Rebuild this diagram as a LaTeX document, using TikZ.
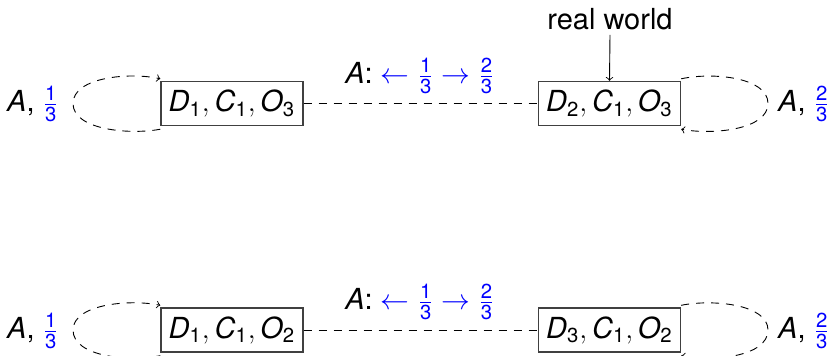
\documentclass[tikz,border=0pt]{standalone}
\usepackage{amsmath}
\usepackage{fontspec}
\setmainfont{TeX Gyre Heros}
\newcommand{\vv}[2]{\textit{#1}_{\text{#2}}}
\newcommand{\fr}[2]{\frac{\text{#1}}{\text{#2}}}
\begin{document}
\begin{tikzpicture}[x=0.5pt,y=-0.5pt,
  every node/.style={font=\fontsize{14.5}{17}\selectfont},
  world/.style={draw=black!75,line width=0.7pt,minimum width=71pt,minimum height=22pt,inner sep=1pt},
  link/.style={dash pattern=on 4pt off 3.5pt,line width=0.45pt},
  loop/.style={dash pattern=on 4pt off 3.5pt,line width=0.45pt,->},
  prob/.style={text=blue}]
\useasboundingbox (0,0) rectangle (831,355);
% top row
\node[world] (b1) at (232,103.5) {$\vv{D}{1}, \vv{C}{1}, \vv{O}{3}$};
\node[world] (b2) at (609.5,103.5) {$\vv{D}{2}, \vv{C}{1}, \vv{O}{3}$};
\node (l1) at (33,104) {\textit{A}, $\color{blue}\fr{1}{3}$};
\node (r1) at (804,104) {\textit{A}, $\color{blue}\fr{2}{3}$};
\node (m1) at (420,76) {\textit{A}: \textcolor{blue}{$\leftarrow \fr{1}{3} \rightarrow \fr{2}{3}$}};
\node (rw) at (610,19) {real world};
\draw[->,line width=0.45pt] (rw.south) ++(0,-2) coordinate (rws) (rws) -- (b2.north);
\draw[link] (b1.east) -- (b2.west);
\draw[loop] ([yshift=-1.5pt]b1.south west) .. controls (130,135) and (73,130) .. (73,103.5)
  .. controls (73,77) and (130,72) .. ([yshift=1pt]b1.north west);
\draw[loop] ([yshift=1pt]b2.north east) .. controls (712,72) and (768,77) .. (768,103.5)
  .. controls (768,130) and (712,135) .. ([yshift=-1.5pt]b2.south east);
% bottom row
\node[world] (b3) at (232,330) {$\vv{D}{1}, \vv{C}{1}, \vv{O}{2}$};
\node[world] (b4) at (609.5,330) {$\vv{D}{3}, \vv{C}{1}, \vv{O}{2}$};
\node (l2) at (33,331) {\textit{A}, $\color{blue}\fr{1}{3}$};
\node (r2) at (804,331) {\textit{A}, $\color{blue}\fr{2}{3}$};
\node (m2) at (420,302) {\textit{A}: \textcolor{blue}{$\leftarrow \fr{1}{3} \rightarrow \fr{2}{3}$}};
\draw[link] (b3.east) -- (b4.west);
\draw[loop] ([yshift=-1.5pt]b3.south west) .. controls (130,362) and (73,357) .. (73,330)
  .. controls (73,304) and (130,299) .. ([yshift=1pt]b3.north west);
\draw[loop] ([yshift=1pt]b4.north east) .. controls (712,299) and (768,304) .. (768,330)
  .. controls (768,357) and (712,362) .. ([yshift=-1.5pt]b4.south east);
\end{tikzpicture}
\end{document}
